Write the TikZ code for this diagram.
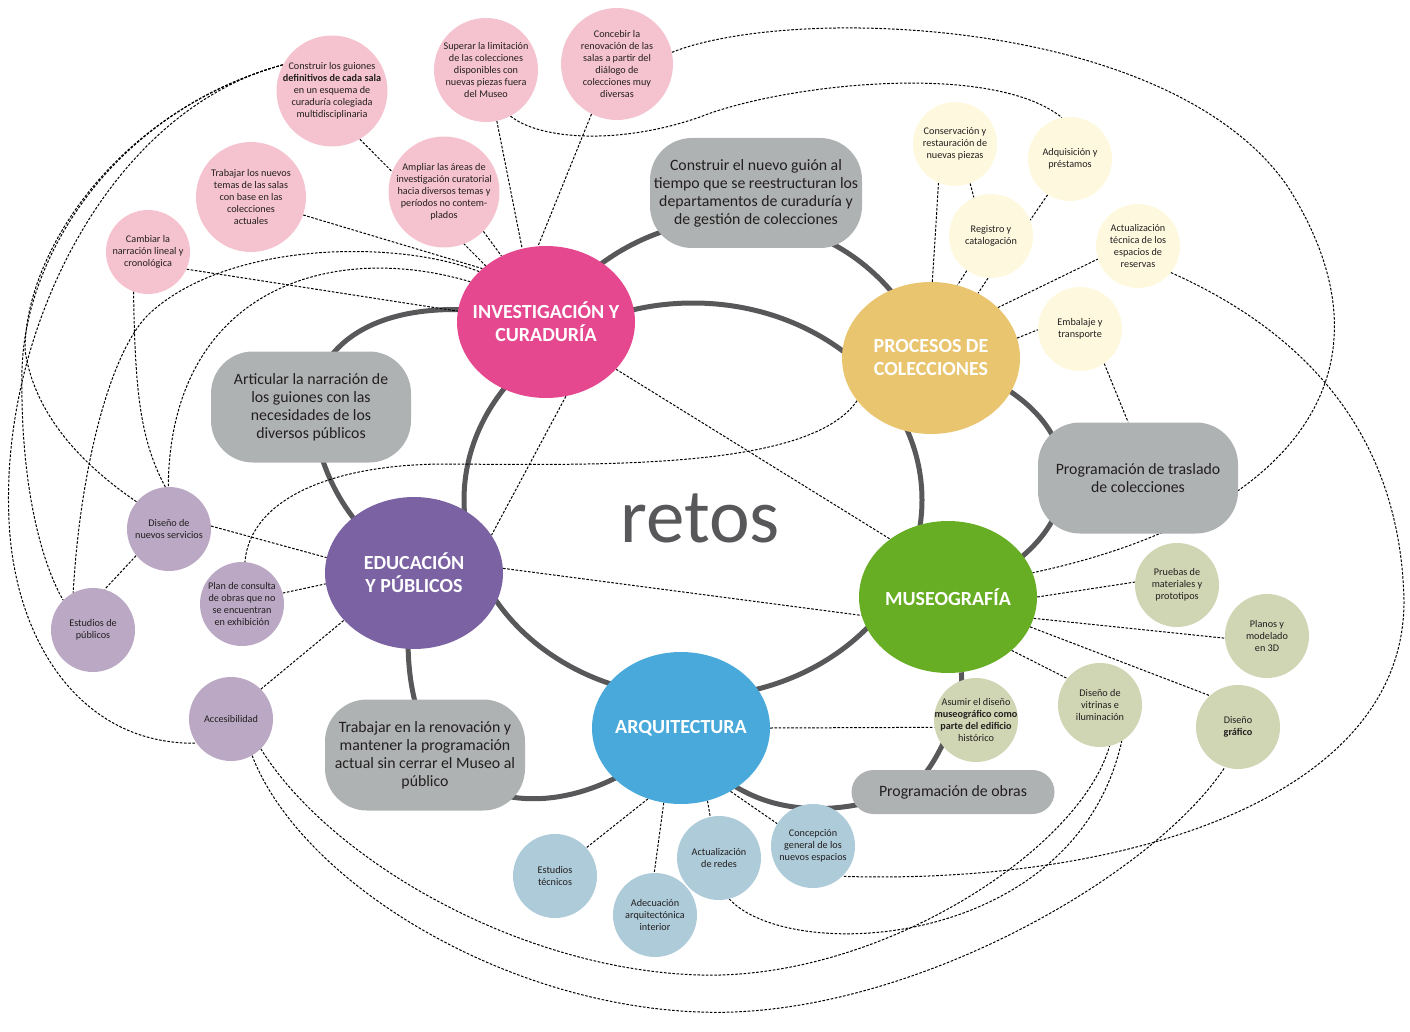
\documentclass[tikz,border=0pt]{standalone}
\usepackage{fontspec}
\setmainfont{Carlito}
\usetikzlibrary{shapes.geometric}
\definecolor{invpink}{HTML}{E5488F}
\definecolor{invlight}{HTML}{F5C3D0}
\definecolor{procgold}{HTML}{EAC570}
\definecolor{proclight}{HTML}{FEF9DE}
\definecolor{edupurple}{HTML}{7B62A3}
\definecolor{edulight}{HTML}{BAA8C4}
\definecolor{musgreen}{HTML}{68AE24}
\definecolor{muslight}{HTML}{D0D5B3}
\definecolor{arqblue}{HTML}{48A9DA}
\definecolor{arqlight}{HTML}{ADCBD9}
\definecolor{boxgray}{HTML}{AFB2B2}
\definecolor{ringgray}{HTML}{58585A}
\definecolor{inkdark}{HTML}{231F20}
\pgfdeclarelayer{bg}
\pgfsetlayers{bg,main}

\begin{document}
\begin{tikzpicture}[x=1pt, y=1pt,
    hub/.style={ellipse, minimum width=178pt, minimum height=152pt, inner sep=-40pt, text=white, align=center, font=\fontsize{20}{23}\selectfont\bfseries},
    sub/.style={circle, minimum size=84pt, inner sep=-16pt, align=center, text=inkdark, font=\fontsize{10.2}{12}\selectfont},
    gbox/.style={fill=boxgray, rounded corners=42pt, minimum width=200pt, minimum height=111pt, align=center, text=inkdark, font=\fontsize{15.8}{18}\selectfont},
    ring/.style={line width=5pt, draw=ringgray},
    link/.style={line width=1pt, dash pattern=on 2.6pt off 1.6pt}]
    \useasboundingbox (0,0) rectangle (1410,-1032);

    \node[hub, fill=invpink] (inv) at (546,-322) {INVESTIGACIÓN Y\\CURADURÍA};
    \node[hub, fill=procgold] (proc) at (931,-358) {PROCESOS DE\\COLECCIONES};
    \node[hub, fill=edupurple] (edu) at (414,-573) {EDUCACIÓN\\Y PÚBLICOS};
    \node[hub, fill=musgreen] (museo) at (948,-597) {MUSEOGRAFÍA};
    \node[hub, fill=arqblue] (arq) at (681,-728) {ARQUITECTURA};
    \node[text=ringgray, font=\fontsize{77}{80}\selectfont] (retos) at (700,-518) {retos};

    \node[gbox, minimum width=212pt, minimum height=110pt] (g1) at (756,-193) {Construir el nuevo guión al\\tiempo que se reestructuran los\\departamentos de curaduría y\\de gestión de colecciones};
    \node[gbox] (g2) at (311,-407) {Articular la narración de\\los guiones con las\\necesidades de los\\diversos públicos};
    \node[gbox] (g3) at (1138,-478) {Programación de traslado\\de colecciones};
    \node[gbox] (g4) at (425,-755) {Trabajar en la renovación y\\mantener la programación\\actual sin cerrar el Museo al\\público};
    \node[gbox, minimum width=203pt, minimum height=44pt, rounded corners=22pt] (g5) at (953,-792) {Programación de obras};

    \node[sub, fill=invlight, minimum size=111pt] (p1) at (332,-91) {Construir los guiones\\\textbf{definitivos de cada sala}\\en un esquema de\\curaduría colegiada\\multidisciplinaria};
    \node[sub, fill=invlight, minimum size=104pt] (p2) at (486,-70) {Superar la limitación\\de las colecciones\\disponibles con\\nuevas piezas fuera\\del Museo};
    \node[sub, fill=invlight, minimum size=112pt] (p3) at (617,-64) {Concebir la\\renovación de las\\salas a partir del\\diálogo de\\colecciones muy\\diversas};
    \node[sub, fill=invlight, minimum size=111pt] (p4) at (444,-192) {Ampliar las áreas de\\investigación curatorial\\hacia diversos temas y\\períodos no contem-\\plados};
    \node[sub, fill=invlight, minimum size=110pt] (p5) at (251,-197) {Trabajar los nuevos\\temas de las salas\\con base en las\\colecciones\\actuales};
    \node[sub, fill=invlight] (p6) at (148,-252) {Cambiar la\\narración lineal y\\cronológica};

    \node[sub, fill=proclight] (y1) at (955,-144) {Conservación y\\restauración de\\nuevas piezas};
    \node[sub, fill=proclight] (y2) at (1070,-159) {Adquisición y\\préstamos};
    \node[sub, fill=proclight] (y3) at (991,-236) {Registro y\\catalogación};
    \node[sub, fill=proclight] (y4) at (1138,-246) {Actualización\\técnica de los\\espacios de\\reservas};
    \node[sub, fill=proclight] (y5) at (1080,-329) {Embalaje y\\transporte};

    \node[sub, fill=edulight] (e1) at (169,-529) {Diseño de\\nuevos servicios};
    \node[sub, fill=edulight] (e2) at (93,-630) {Estudios de\\públicos};
    \node[sub, fill=edulight] (e3) at (242,-604) {Plan de consulta\\de obras que no\\se encuentran\\en exhibición};
    \node[sub, fill=edulight] (e4) at (231,-719) {Accesibilidad};

    \node[sub, fill=muslight] (m1) at (1177,-585) {Pruebas de\\materiales y\\prototipos};
    \node[sub, fill=muslight] (m2) at (1267,-636) {Planos y\\modelado\\en 3D};
    \node[sub, fill=muslight] (m3) at (976,-720) {Asumir el diseño\\\textbf{museográfico como}\\\textbf{parte del edificio}\\histórico};
    \node[sub, fill=muslight] (m4) at (1100,-705) {Diseño de\\vitrinas e\\iluminación};
    \node[sub, fill=muslight] (m5) at (1238,-727) {Diseño\\\textbf{gráfico}};

    \node[sub, fill=arqlight] (a1) at (555,-876) {Estudios\\técnicos};
    \node[sub, fill=arqlight] (a2) at (655,-915) {Adecuación\\arquitectónica\\interior};
    \node[sub, fill=arqlight] (a3) at (719,-858) {Actualización\\de redes};
    \node[sub, fill=arqlight] (a4) at (813,-846) {Concepción\\general de los\\nuevos espacios};

    \begin{pgfonlayer}{bg}
    \draw[ring] (693,-500) ellipse [x radius=229, y radius=197];
    \draw[ring] (inv.center) .. controls (640,-180) and (860,-180) .. (proc.center);
    \draw[ring] (inv.center) .. controls (420,-290) and (320,-320) .. (g2.center) .. controls (320,-480) and (350,-530) .. (edu.center);
    \draw[ring] (proc.center) .. controls (1100,-400) and (1110,-540) .. (museo.center);
    \draw[ring] (edu.center) .. controls (370,-840) and (580,-840) .. (arq.center);
    \draw[ring] (arq.center) .. controls (720,-800) and (800,-830) .. ([xshift=-50pt]g5.center) .. controls (935,-780) and (965,-700) .. (museo.-80);

    \draw[link] (p1.-60) -- (inv.137);
    \draw[link] (p4.-45) -- (inv.124);
    \draw[link] (p2.-78) -- (inv.108);
    \draw[link] (p3.-117) -- (inv.96);
    \draw[link] (p5.-19) -- (inv.140);
    \draw[link] (p6.-24) -- (inv.173);
    \draw[link] (inv.-34) -- (museo.135);
    \draw[link] (inv.-75) -- (edu.26);
    \draw[link] (e1.4) -- (edu.170);
    \draw[link] (e3.15) -- (edu.187);
    \draw[link] (e1.219) -- (e2.74);
    \draw[link] (e4.45) -- (edu.214);
    \draw[link] (edu.3) -- (museo.192);
    \draw[link] (museo.0) -- (m1.176);
    \draw[link] (museo.-14) -- (m2.183);
    \draw[link] (museo.-20) -- (m5.132);
    \draw[link] (museo.-40) -- (m4.141);
    \draw[link] (arq.0) -- (m3.190);
    \draw[link] (arq.-115) -- (a1.42);
    \draw[link] (arq.-103) -- (a2.91);
    \draw[link] (arq.-70) -- (a3.102);
    \draw[link] (arq.-52) -- (a4.148);
    \draw[link] (y5.-55) -- (g3.100);
    \draw[link] (proc.13) -- (y5.181);
    \draw[link] (proc.37) -- (y4.198);
    \draw[link] (y1.-113) -- (proc.89);
    \draw[link] (y1.-69) -- (y3.114);
    \draw[link] (y3.-125) -- (proc.70);
    \draw[link] (y3.-94) -- (proc.54);
    \draw[link] (y2.-122) -- (y3.22);
    \draw[link] (p6.-110) .. controls (135,-390) and (140,-440) .. (e1.95);

    \draw[link] (p2.-62) .. controls (540,-140) and (620,-145) .. (700,-117) .. controls (780,-85) and (990,-60) .. (y2.101);
    \draw[link] (p3.12) .. controls (790,-5) and (1170,-15) .. (1288,-187) .. controls (1410,-380) and (1280,-520) .. (museo.16);
    \draw[link] (y4.-39) .. controls (1300,-330) and (1400,-430) .. (1404,-600) .. controls (1405,-800) and (1120,-885) .. (a4.-46);
    \draw[link] (e4.-60) .. controls (300,-880) and (500,-1005) .. (700,-1012) .. controls (900,-1020) and (1150,-880) .. (m5.-108);
    \draw[link] (e4.-45) .. controls (330,-860) and (520,-970) .. (700,-975) .. controls (880,-980) and (1080,-850) .. (m4.-77);
    \draw[link] (a3.-76) .. controls (790,-965) and (1075,-950) .. (m4.-59);
    \draw[link] (proc.210) .. controls (810,-470) and (600,-465) .. (446,-464) .. controls (330,-464) and (250,-500) .. (e3.86);
    \draw[link] (inv.143) .. controls (400,-240) and (230,-240) .. (150,-313) .. controls (110,-350) and (80,-470) .. (e2.118);
    \draw[link] (inv.152) .. controls (330,-240) and (170,-290) .. (e1.91);
    \draw[link] (p1.152) .. controls (110,-110) and (0,-330) .. (9,-520) .. controls (14,-640) and (80,-745) .. (e4.215);
    \draw[link] (p1.152) .. controls (120,-110) and (25,-250) .. (22,-370) .. controls (20,-480) and (40,-560) .. (e2.135);
    \draw[link] (p1.152) .. controls (120,-110) and (25,-250) .. (25,-350) .. controls (35,-420) and (90,-470) .. (e1.140);
    \end{pgfonlayer}
\end{tikzpicture}
\end{document}
